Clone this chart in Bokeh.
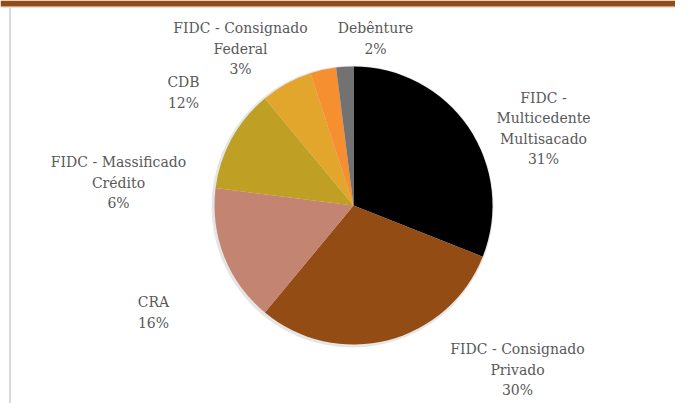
import math
from bokeh.plotting import figure
from bokeh.models import Range1d, ColumnDataSource, Label
from bokeh.embed import file_html
from bokeh.resources import INLINE

# ---- data ----
categories = [
    "FIDC -\nMulticedente\nMultisacado",
    "FIDC - Consignado\nPrivado",
    "CRA",
    "CDB",
    "FIDC - Massificado\nCrédito",
    "FIDC - Consignado\nFederal",
    "Debênture",
]
shares = [31, 30, 16, 12, 6, 3, 2]
colors = ["#000000", "#934C13", "#C38471", "#BFA024", "#E2A62C", "#F58F30", "#727272"]

# label anchor positions (pixels)
label_px = [543, 517, 153, 183, 118, 240, 375]
label_py = [128, 369, 312, 92, 182, 48, 38]

W, H = 675, 403
LINE = 20.5
p = figure(width=W, height=H, output_backend="svg", toolbar_location=None,
           x_range=Range1d(0, W), y_range=Range1d(0, H), min_border=0)
p.axis.visible = False
p.grid.visible = False
p.outline_line_color = None
p.background_fill_color = "white"
p.border_fill_color = "white"

def fx(px):
    return px

def fy(py):
    return H - py

# frame: top brown bar, light panel border
p.quad(left=0, right=W, top=H, bottom=H - 6, fill_color="#934C13", line_color=None)
p.segment(x0=0, y0=H - 7, x1=W, y1=H - 7, line_color="#E3E3E3", line_width=1)
p.segment(x0=9.5, y0=H - 7, x1=9.5, y1=0, line_color="#DADADA", line_width=2)

cx, cy, r = fx(353), fy(205), 139

# soft shadow
p.circle(x=[cx - 1], y=[cy - 1], radius=r + 2, fill_color="#000000", fill_alpha=0.10,
         line_color=None)

total = float(sum(shares))
starts, ends = [], []
cum = 0.0
for s in shares:
    a0 = math.pi / 2 - 2 * math.pi * (cum + s) / total
    a1 = math.pi / 2 - 2 * math.pi * cum / total
    starts.append(a0)
    ends.append(a1)
    cum += s

src = ColumnDataSource(dict(start=starts, end=ends, color=colors,
                            cat=categories, share=shares))
p.wedge(x=cx, y=cy, radius=r, start_angle="start", end_angle="end",
        fill_color="color", line_color=None, source=src)

# labels: one Label per line
for c, s, lx, ly in zip(categories, shares, label_px, label_py):
    lines = c.split("\n") + [f"{s}%"]
    n = len(lines)
    for i, ln in enumerate(lines):
        p.add_layout(Label(x=fx(lx), y=fy(ly + (i - (n - 1) / 2) * LINE), text=ln,
                           text_align="center", text_baseline="middle",
                           text_font="DejaVu Serif", text_font_size="14px",
                           text_color="#595959"))

open("out.html", "w").write(file_html(p, INLINE))
